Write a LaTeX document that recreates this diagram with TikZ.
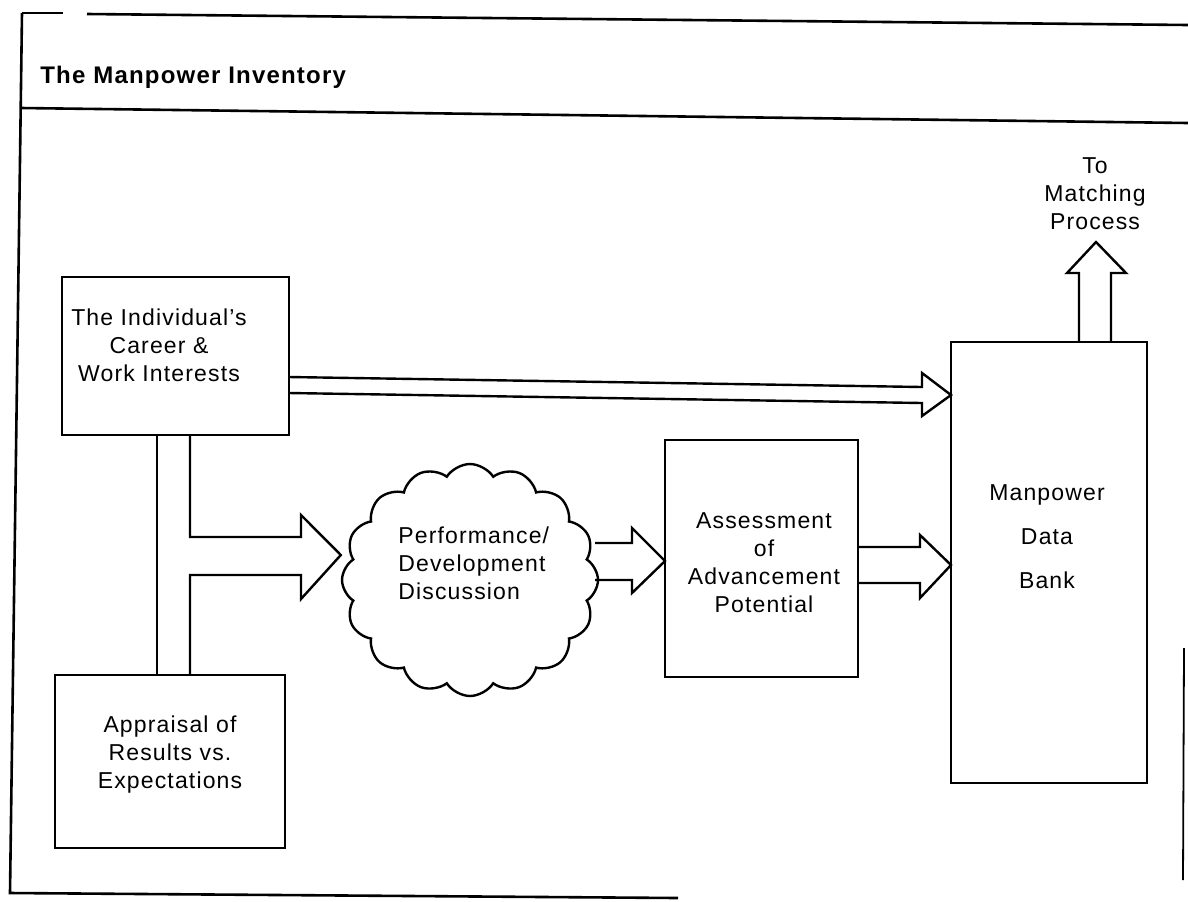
\documentclass[tikz,border=0pt]{standalone}
\usepackage{fontspec}
\setmainfont{Liberation Sans}[LetterSpace=5]
\usetikzlibrary{shapes.symbols,calc}
\begin{document}
\begin{tikzpicture}[x=0.5pt,y=-0.5pt,
  frame/.style={line width=1.3pt},
  box/.style={draw,line width=1.4pt,inner sep=0pt,outer sep=0pt},
  blk/.style={draw,line width=1.2pt,line join=miter},
  txt/.style={align=center,inner sep=0pt,font=\fontsize{11.5}{14}\selectfont},
  ]
\useasboundingbox (0,0) rectangle (1188,901);

% outer frame and title band
\draw[frame] (22,13) -- (63,13);
\draw[frame] (87,14) -- (1188,25);
\draw[frame] (21,108) -- (1188,123);
\draw[frame] (22,13) -- (10,893) -- (678,898);
\draw[line width=0.9pt] (1184,648) -- (1183,880);
\node[anchor=base west,inner sep=0pt,font=\fontsize{12}{14}\selectfont\bfseries] (title) at (40,83) {The Manpower Inventory};

% boxes
\node[box,minimum width=113.5pt,minimum height=79pt] (ind) at (175.5,356) {};
\node[txt] (indtxt) at (159,345) {The Individual's\\Career \&\\Work Interests};

\node[box,minimum width=115pt,minimum height=86.5pt] (appr) at (170,761.5) {};
\node[txt] (apprtxt) at (170,755) {Appraisal of\\Results vs.\\Expectations};

\node[cloud,draw,line width=1.2pt,cloud puffs=16,cloud puff arc=115,aspect=1.1,
      minimum width=128pt,minimum height=116pt,inner sep=0pt] (disc) at (470,580) {};
\node[txt,align=left,anchor=west] (disctxt) at (398,563) {Performance/\\Development\\Discussion};

\node[box,minimum width=96.5pt,minimum height=118.5pt] (assess) at (761.5,558.5) {};
\node[txt] (assesstxt) at (764,563) {Assessment\\of\\Advancement\\Potential};

\node[box,minimum width=98pt,minimum height=220.5pt] (bank) at (1049,562.5) {};
\node[txt,font=\fontsize{11.5}{22}\selectfont] (banktxt) at (1047,537) {Manpower\\Data\\Bank};

\node[txt] (out) at (1095,194) {To\\Matching\\Process};

% interests straight to the data bank
\draw[blk] (ind.east |- 0,377) -- (922,387) -- (922,373) -- (bank.west |- 0,395)
  -- (922,416) -- (922,403) -- (ind.east |- 0,393);

% interests and appraisal joined into the discussion
\draw[blk] (157,435) -- (157,675);
\draw[blk] (ind.south -| 190,0) -- (190,537) -- (301,537) -- (301,515) -- (disc.west |- 0,555)
  -- (301,599) -- (301,575) -- (190,575) -- (appr.north -| 190,0);

% discussion to assessment
\draw[blk] (595,543) -- (632,543) -- (632,528) -- (assess.west |- 0,561)
  -- (632,593) -- (632,580) -- (595,580);

% assessment to data bank
\draw[blk] (assess.east |- 0,547) -- (920,547) -- (920,535) -- (bank.west |- 0,565)
  -- (920,598) -- (920,583) -- (assess.east |- 0,583);

% data bank on to matching
\draw[blk] (bank.north -| 1079,0) -- (1079,273) -- (1067,273) -- (1096,242)
  -- (1126,273) -- (1111,273) -- (bank.north -| 1111,0);
\end{tikzpicture}
\end{document}
